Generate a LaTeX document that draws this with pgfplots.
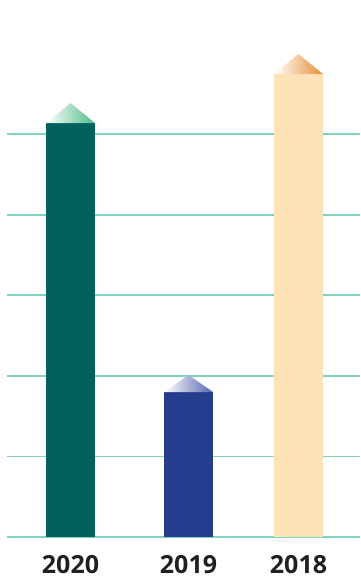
\documentclass[border=0pt]{standalone}
\usepackage{pgfplots}
\pgfplotsset{compat=1.18}
\usepackage{fontspec}
\setmainfont{Open Sans}
\definecolor{gridc}{HTML}{7DD3C0}
\definecolor{c20}{HTML}{02615C}
\definecolor{c19}{HTML}{263D8D}
\definecolor{c18}{HTML}{FFE3B8}
\definecolor{t20}{HTML}{4FBA88}
\definecolor{t19}{HTML}{5565AE}
\definecolor{t18}{HTML}{E88E35}
\definecolor{lab}{HTML}{231F20}
\begin{document}
\begin{tikzpicture}
\begin{axis}[name=ax,
  scale only axis, width=360pt, height=579pt,
  xmin=0, xmax=360, ymin=-0.521, ymax=6.663,
  axis lines=none, clip=false,
  xtick=\empty, ytick=\empty]
  % grid lines
  \foreach \k in {0,1,2,3,4,5}{
    \edef\tmp{\noexpand\draw[gridc, line width=1.8pt] (axis cs:7,\k) -- (axis cs:360,\k);}\tmp
  }
  % bars
  \addplot[ybar, bar width=49pt, bar shift=0pt, fill=c20, draw=none] coordinates {(70.5,5.136)};
  \addplot[ybar, bar width=49pt, bar shift=0pt, fill=c19, draw=none] coordinates {(188.5,1.799)};
  \addplot[ybar, bar width=49pt, bar shift=0pt, fill=c18, draw=none] coordinates {(298.5,5.744)};
  % caps
  \addplot[draw=none, left color=white, right color=t20] coordinates {(46,5.136) (70.5,5.385) (95,5.136)} -- cycle;
  \addplot[draw=none, left color=white, right color=t19] coordinates {(164,1.799) (188.5,2.01) (213,1.799)} -- cycle;
  \addplot[draw=none, left color=white, right color=t18] coordinates {(274,5.744) (298.5,5.993) (323,5.744)} -- cycle;
  % labels
  \node[anchor=base, text=lab, font=\fontsize{25}{28}\selectfont\bfseries] at (axis cs:70.5,-0.447) {2020};
  \node[anchor=base, text=lab, font=\fontsize{25}{28}\selectfont\bfseries] at (axis cs:188.5,-0.447) {2019};
  \node[anchor=base, text=lab, font=\fontsize{25}{28}\selectfont\bfseries] at (axis cs:298.5,-0.447) {2018};
\end{axis}
\pgfresetboundingbox
\path (ax.south west) rectangle (ax.north east);
\end{tikzpicture}
\end{document}
